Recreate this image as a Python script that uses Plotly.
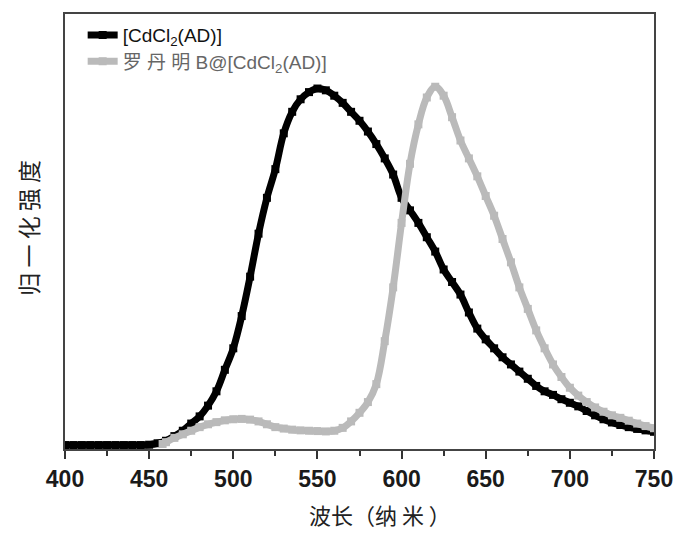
import plotly.graph_objects as go

# ---- data ----
wavelength_black = [400, 405, 410, 415, 420, 425, 430, 435, 440, 445, 450, 455, 460, 465, 470, 475,
                    480, 485, 490, 495, 500, 505, 510, 515, 520, 525, 530, 535, 540, 545, 550, 555,
                    560, 565, 570, 575, 580, 585, 590, 595, 600, 605, 610, 615, 620, 625, 630, 635,
                    640, 645, 650, 655, 660, 665, 670, 675, 680, 685, 690, 695, 700, 705, 710, 715,
                    720, 725, 730, 735, 740, 745, 750]
intensity_black = [0.0, 0.0, 0.0, 0.0, 0.0, 0.0, 0.0, 0.0, 0.0, 0.0, 0.001, 0.005, 0.012, 0.025, 0.04, 0.06,
                   0.08, 0.11, 0.15, 0.21, 0.27, 0.36, 0.47, 0.59, 0.69, 0.77, 0.87, 0.93, 0.965, 0.985, 0.995, 0.99,
                   0.975, 0.955, 0.93, 0.905, 0.875, 0.84, 0.80, 0.755, 0.69, 0.655, 0.62, 0.58, 0.54, 0.49, 0.455, 0.42,
                   0.37, 0.325, 0.295, 0.27, 0.245, 0.225, 0.205, 0.185, 0.165, 0.15, 0.14, 0.128, 0.118, 0.108, 0.095, 0.083,
                   0.072, 0.063, 0.056, 0.05, 0.045, 0.041, 0.037]

wavelength_grey = [458, 460, 465, 470, 475, 480, 485, 490, 495, 500, 505, 510, 515, 520, 525, 530,
                   535, 540, 545, 550, 555, 560, 565, 570, 575, 580, 585, 590, 595, 600, 605, 610,
                   615, 620, 625, 630, 635, 640, 645, 650, 655, 660, 665, 670, 675, 680, 685, 690,
                   695, 700, 705, 710, 715, 720, 725, 730, 735, 740, 745, 750]
intensity_grey = [0.003, 0.008, 0.02, 0.03, 0.04, 0.05, 0.058, 0.064, 0.069, 0.072, 0.073, 0.071, 0.066, 0.058, 0.05, 0.046,
                  0.043, 0.041, 0.04, 0.039, 0.038, 0.04, 0.048, 0.066, 0.09, 0.12, 0.17, 0.29, 0.44, 0.62, 0.785, 0.895,
                  0.97, 1.0, 0.975, 0.915, 0.85, 0.80, 0.75, 0.695, 0.64, 0.575, 0.51, 0.44, 0.38, 0.32, 0.27, 0.225,
                  0.19, 0.16, 0.138, 0.12, 0.105, 0.093, 0.083, 0.076, 0.068, 0.06, 0.053, 0.047]

name_black = "[CdCl<sub>2</sub>(AD)]"
name_grey = "罗 丹 明 B@[CdCl<sub>2</sub>(AD)]"
x_ticks = [400, 450, 500, 550, 600, 650, 700, 750]
x_title = "波长（纳 米 ）"
y_title = "归 一 化 强 度"

BLACK = "#000000"
GREY = "#bababa"

fig = go.Figure()
fig.add_trace(go.Scatter(
    x=wavelength_black, y=intensity_black, name=name_black,
    mode="lines+markers", line=dict(color=BLACK, width=7, shape="spline"),
    marker=dict(symbol="square", size=8, color=BLACK),
    legend="legend", showlegend=True,
))
fig.add_trace(go.Scatter(
    x=wavelength_grey, y=intensity_grey, name=name_grey,
    mode="lines+markers", line=dict(color=GREY, width=7, shape="spline"),
    marker=dict(symbol="square", size=8, color=GREY),
    legend="legend2", showlegend=True,
))

axis_common = dict(showline=True, linecolor="#444444", linewidth=2, mirror=True,
                   showgrid=False, zeroline=False)

fig.update_layout(
    width=685, height=536,
    showlegend=True,
    margin=dict(l=65, r=25, t=12, b=87),
    paper_bgcolor="white", plot_bgcolor="white",
    font=dict(family="Liberation Sans, Arial, sans-serif", color="#111111"),
    xaxis=dict(range=[400, 750], tickmode="array", tickvals=x_ticks,
               ticks="outside", ticklen=8, tickwidth=2, tickcolor="#333333",
               tickfont=dict(size=23, family="Liberation Sans, Arial, sans-serif", color="#1a1a1a", weight="bold"),
               minor=dict(dtick=25, tick0=400, ticks="outside", ticklen=5, tickwidth=1.5, tickcolor="#333333"),
               **axis_common),
    yaxis=dict(range=[-0.011, 1.203], showticklabels=False, ticks="", **axis_common),
    legend=dict(x=0.03, y=0.995, xanchor="left", yanchor="top", bgcolor="rgba(0,0,0,0)",
                font=dict(size=19, color="#111111", family="Liberation Sans, Arial, sans-serif")),
    legend2=dict(x=0.03, y=0.935, xanchor="left", yanchor="top", bgcolor="rgba(0,0,0,0)",
                 font=dict(size=19, color="#666666", family="Liberation Sans, 'Noto Sans CJK SC', sans-serif")),
    annotations=[
        dict(text=x_title, xref="paper", yref="paper", x=0.535, y=-0.15, xanchor="center", yanchor="middle",
             showarrow=False, font=dict(size=22, family="Noto Sans CJK SC", color="#222222")),
        dict(text=y_title, xref="paper", yref="paper", x=-0.062, y=0.51, xanchor="center", yanchor="middle",
             textangle=-90, showarrow=False, font=dict(size=23, family="Noto Sans CJK SC", color="#222222")),
    ],
)

fig.write_html("out.html")
